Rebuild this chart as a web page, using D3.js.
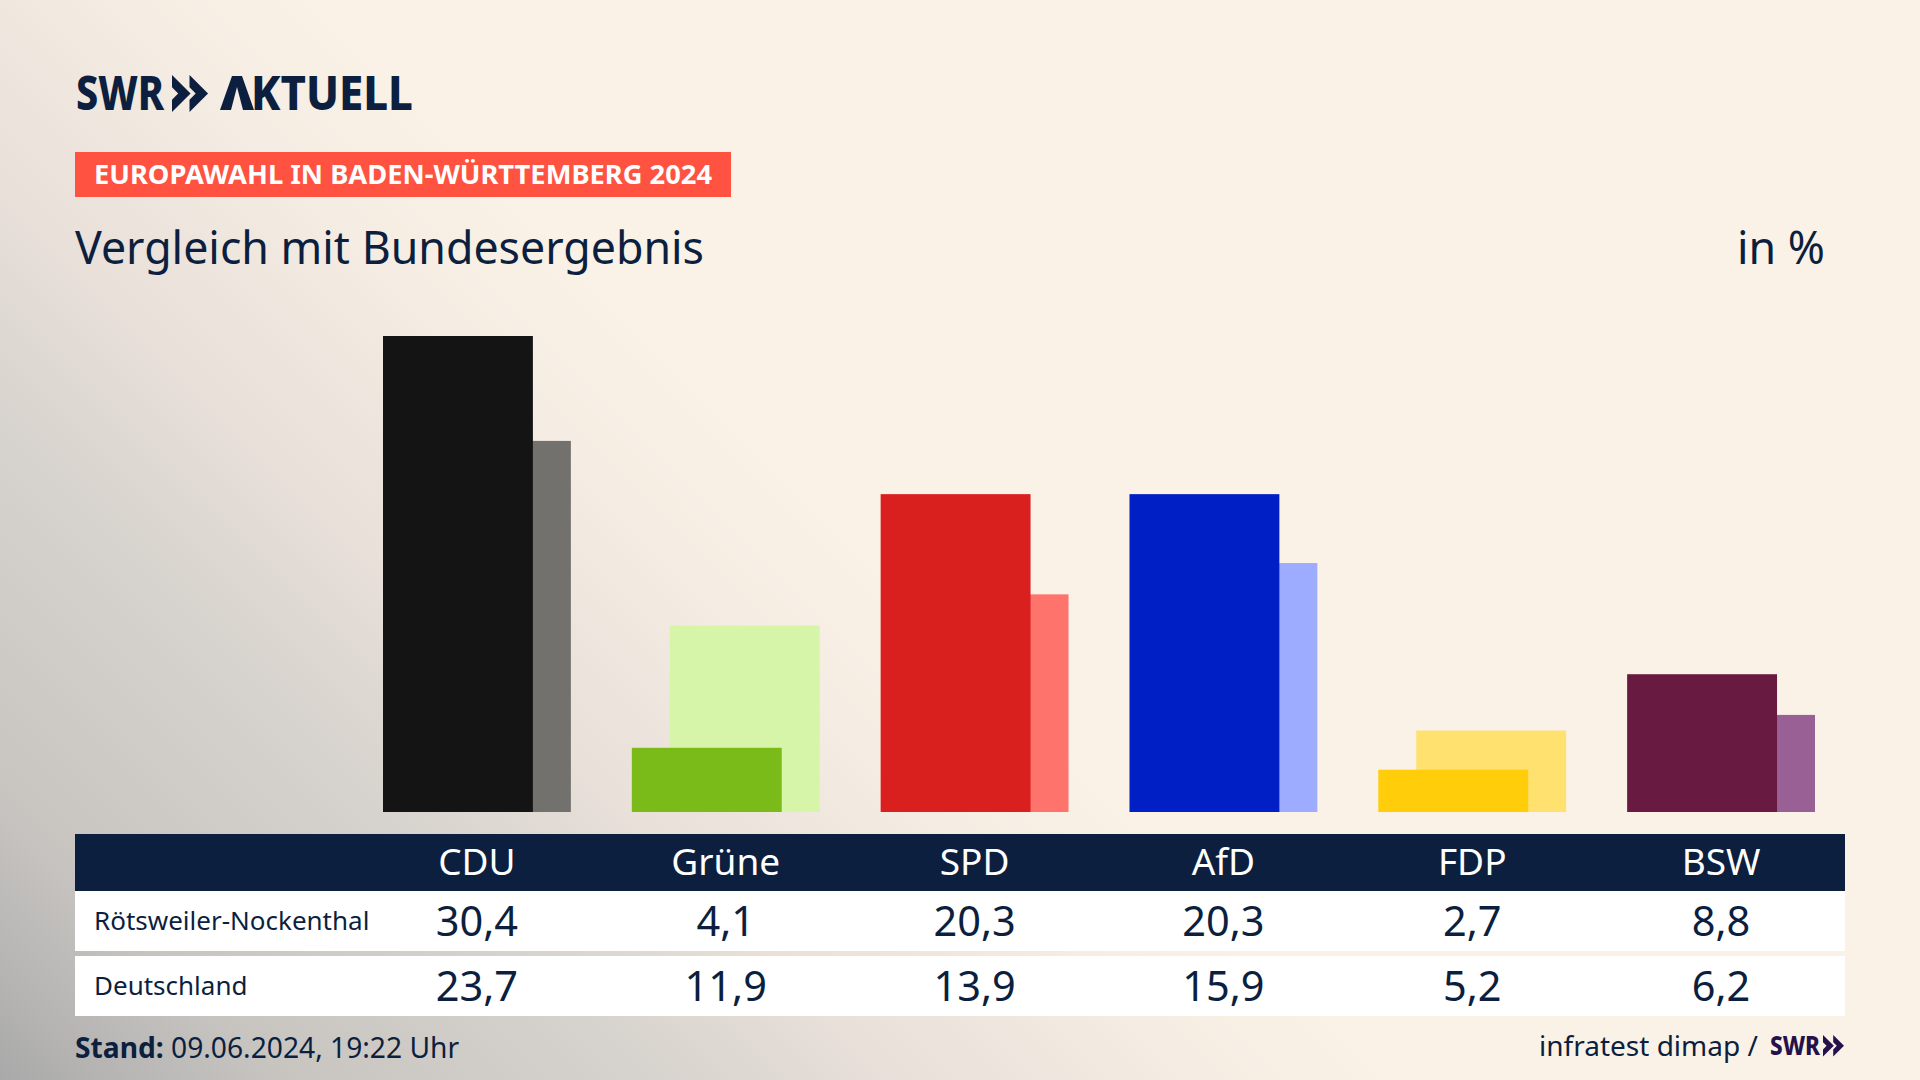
<!DOCTYPE html>
<html lang="de">
<head>
<meta charset="utf-8">
<title>Europawahl in Baden-Württemberg 2024</title>
<script src="https://cdn.jsdelivr.net/npm/d3@7"></script>
<style>
    html, body { margin: 0; padding: 0; background: #faf2e6; }
    svg { display: block; }
    text { font-family: "Noto Sans", sans-serif; fill: #0c1f3f; }
</style>
</head>
<body>
<div id="chart"></div>
<script>
const parties = ["CDU", "Grüne", "SPD", "AfD", "FDP", "BSW"];
const local = [30.4, 4.1, 20.3, 20.3, 2.7, 8.8];
const national = [23.7, 11.9, 13.9, 15.9, 5.2, 6.2];
const darkColors = ["#141414", "#7abb1a", "#d9201f", "#0020c6", "#ffcd09", "#691a40"];
const lightColors = ["#72716e", "#d6f5a8", "#ff736d", "#9dacff", "#ffe170", "#996096"];
const rowLabels = ["Rötsweiler-Nockenthal", "Deutschland"];

const width = 1920, height = 1080, navy = "#0c1f3f";
const format = d3.format(".1f");
const comma = v => format(v).replace(".", ",");

const svg = d3.select("#chart").append("svg")
    .attr("width", width)
    .attr("height", height);

// diagonal wash from the bottom left corner
const grad = svg.append("defs").append("linearGradient")
    .attr("id", "bg")
    .attr("gradientUnits", "userSpaceOnUse")
    .attr("x1", 0).attr("y1", height).attr("x2", 700).attr("y2", height - 700);
[[0, "#a9a9a9"], [0.07, "#b4b3b2"], [0.21, "#c8c5c1"], [0.46, "#d6d2cd"], [0.64, "#e8e0d9"], [0.86, "#f5ece3"], [1, "#faf2e6"]]
    .forEach(s => grad.append("stop").attr("offset", s[0]).attr("stop-color", s[1]));

svg.append("rect").attr("width", width).attr("height", height).attr("fill", "url(#bg)");

// chart
const x = d3.scaleBand().domain(parties).range([383, 1815]).paddingInner(0.245);
const y = d3.scaleLinear().domain([0, 30.4]).range([812, 336]);
const barW = x.bandwidth() * 150 / 188;
const shift = x.bandwidth() - barW;

svg.append("g").selectAll("rect")
    .data(parties)
    .join("rect")
    .attr("x", d => x(d) + shift)
    .attr("y", (d, i) => y(national[i]))
    .attr("width", barW)
    .attr("height", (d, i) => y(0) - y(national[i]))
    .attr("fill", (d, i) => lightColors[i]);

svg.append("g").selectAll("rect")
    .data(parties)
    .join("rect")
    .attr("x", d => x(d))
    .attr("y", (d, i) => y(local[i]))
    .attr("width", barW)
    .attr("height", (d, i) => y(0) - y(local[i]))
    .attr("fill", (d, i) => darkColors[i]);

// table
const colX = d => x(d) + x.bandwidth() / 2;
svg.append("rect").attr("x", 75).attr("y", 834).attr("width", 1770).attr("height", 57).attr("fill", navy);
svg.append("rect").attr("x", 75).attr("y", 891).attr("width", 1770).attr("height", 60).attr("fill", "#fff");
svg.append("rect").attr("x", 75).attr("y", 956).attr("width", 1770).attr("height", 60).attr("fill", "#fff");

svg.append("g").selectAll("text")
    .data(parties)
    .join("text")
    .attr("x", colX)
    .attr("y", 875)
    .attr("text-anchor", "middle")
    .attr("font-size", 37)
    .style("fill", "#fff")
    .text(d => d);

[local, national].forEach((row, r) => {
    const base = [936, 1001][r];
    svg.append("text")
        .attr("x", 94).attr("y", base - 6)
        .attr("font-size", 26)
        .text(rowLabels[r]);
    svg.append("g").selectAll("text")
        .data(parties)
        .join("text")
        .attr("x", colX)
        .attr("y", base)
        .attr("text-anchor", "middle")
        .attr("font-size", 41.5)
        .text((d, i) => comma(row[i]));
});

// header
const logo = svg.append("g").attr("font-weight", 800).attr("font-size", 48);
logo.append("text")
    .attr("x", 76).attr("y", 110)
    .attr("textLength", 88).attr("lengthAdjust", "spacingAndGlyphs")
    .text("SWR");
const aktuell = logo.append("text")
    .attr("x", 220).attr("y", 110)
    .attr("textLength", 193).attr("lengthAdjust", "spacingAndGlyphs");
// logo A has no crossbar: keep the word as text, draw the letter as a shape
aktuell.append("tspan").style("fill", "none").text("A");
aktuell.append("tspan").text("KTUELL");

const chevrons = (g, px, py, s, color) => [0, 1].forEach(i => g.append("path")
    .attr("d", `M${px + i * 17 * s},${py} l${18 * s},${18 * s} l${-18 * s},${18 * s} v${-12 * s} l${6 * s},${-6 * s} l${-6 * s},${-6 * s} z`)
    .attr("fill", color));
chevrons(svg, 172, 75, 1.03, navy);

svg.append("path")
    .attr("d", "M220,110 L232,76 h10 L254,110 h-11 L237,87 L231,110 z")
    .attr("fill", navy);

svg.append("rect").attr("x", 75).attr("y", 152).attr("width", 656).attr("height", 45).attr("fill", "#ff5240");
svg.append("text")
    .attr("x", 94).attr("y", 184)
    .attr("font-size", 27.3).attr("font-weight", 700)
    .style("fill", "#fff")
    .text("EUROPAWAHL IN BADEN-WÜRTTEMBERG 2024");

svg.append("text").attr("x", 75).attr("y", 264).attr("font-size", 44.7).text("Vergleich mit Bundesergebnis");
svg.append("text").attr("x", 1825).attr("y", 264).attr("text-anchor", "end").attr("font-size", 44.7).text("in %");

// footer
const stand = svg.append("text").attr("x", 75).attr("y", 1058).attr("font-size", 28.2);
stand.append("tspan").attr("font-weight", 700).text("Stand:");
stand.append("tspan").text(" 09.06.2024, 19:22 Uhr");

svg.append("text").attr("x", 1648.5).attr("y", 1056).attr("text-anchor", "middle").attr("font-size", 28)
    .text("infratest dimap /");
svg.append("text").attr("x", 1770).attr("y", 1055).attr("font-size", 26).attr("font-weight", 800)
    .attr("textLength", 50).attr("lengthAdjust", "spacingAndGlyphs")
    .style("fill", "#26124a").text("SWR");
chevrons(svg, 1823, 1035, 0.6, "#26124a");
</script>
</body>
</html>
